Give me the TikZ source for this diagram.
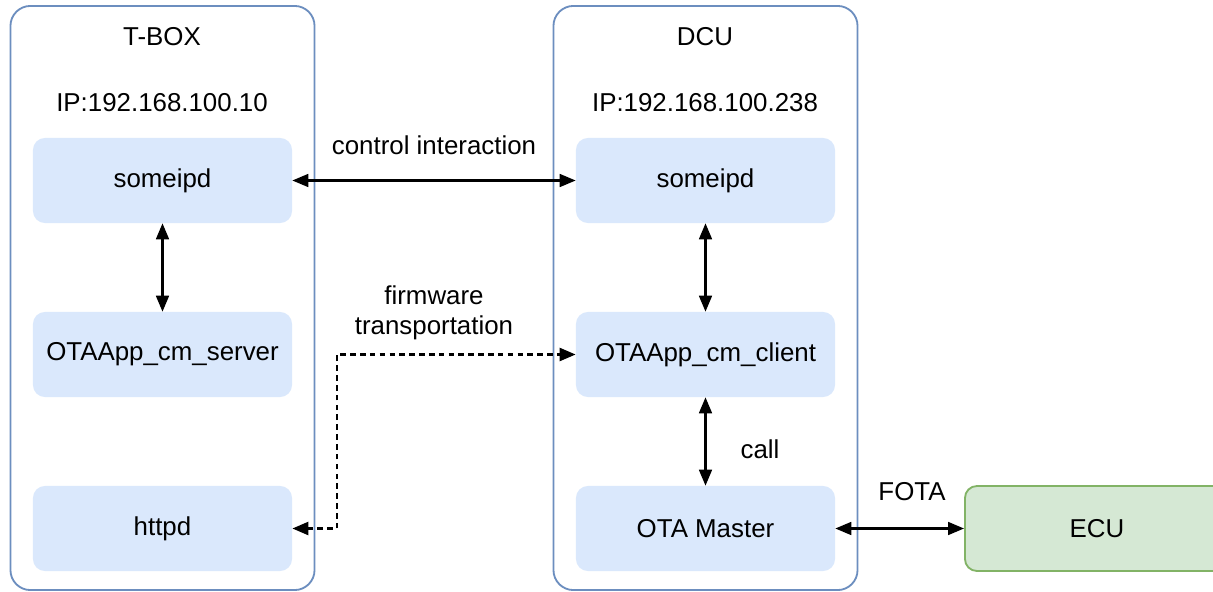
\documentclass[tikz,border=0pt]{standalone}
\usepackage{fontspec}
\setmainfont{Liberation Sans}
\usetikzlibrary{arrows.meta}

\definecolor{boxblue}{HTML}{DAE8FC}
\definecolor{lineblue}{HTML}{6C8EBF}
\definecolor{boxgreen}{HTML}{D5E8D4}
\definecolor{linegreen}{HTML}{82B366}

\tikzset{
  host/.style = {draw=lineblue, line width=1.3pt, rounded corners=0.5cm,
                 minimum width=7.6cm, minimum height=14.6cm},
  proc/.style = {fill=boxblue, rounded corners=0.3cm,
                 minimum width=6.475cm, minimum height=2.125cm},
  ecubox/.style = {proc, fill=boxgreen, draw=linegreen, line width=1.3pt},
  link/.style = {line width=1.6pt, {Triangle[length=4mm,width=3.2mm]}-{Triangle[length=4mm,width=3.2mm]}}
}

\begin{document}
\begin{tikzpicture}[x=0.025cm, y=-0.025cm, font=\fontsize{18.4}{22}\selectfont]
  \useasboundingbox (0,0) rectangle (1213,592);
  \clip (0,0) rectangle (1213,592);
  \fill[white] (0,0) rectangle (1213,592);

  % hosts
  \node[host] (tbox) at (162.5,298) {};
  \node[host] (dcu)  at (705.5,298) {};
  \node (tboxname) at (162,37) {T-BOX};
  \node (tboxip)   at (162,103) {IP:192.168.100.10};
  \node (dcuname)  at (705,37) {DCU};
  \node (dcuip)    at (705,103) {IP:192.168.100.238};

  % processes on the T-BOX
  \node[proc] (tsomeip) at (162.5,180.5) {someipd};
  \node[proc] (server)  at (162.5,354.5) {OTAApp\_cm\_server};
  \node[proc] (httpd)   at (162.5,528.5) {httpd};

  % processes on the DCU
  \node[proc] (dsomeip) at (705.5,180.5) {someipd};
  \node[proc] (client)  at (705.5,354.5) {OTAApp\_cm\_client};
  \node[proc] (master)  at (705.5,528.5) {OTA Master};

  % ECU, cut by the right edge
  \node[ecubox, minimum width=6.6cm] (ecu) at (1097,528.5) {ECU};

  % links
  \draw[link] (tsomeip) -- (dsomeip);
  \draw[link] (tsomeip) -- (server);
  \draw[link] (dsomeip) -- (client);
  \draw[link] (client) -- (master);
  \draw[link] (master) -- (ecu);

  % firmware path
  \coordinate (bend) at (337,354.5);
  \draw[link, line width=2pt, dash pattern=on 4pt off 3pt]
    (httpd.east) -| (bend) -- (client.west);

  % labels
  \node (ctrl) at (434,145) {control interaction};
  \node[align=center] (fw) at (434,313) {firmware\\[-1pt]transportation};
  \node (call) at (760,449) {call};
  \node (fota) at (912,492) {FOTA};
\end{tikzpicture}
\end{document}
